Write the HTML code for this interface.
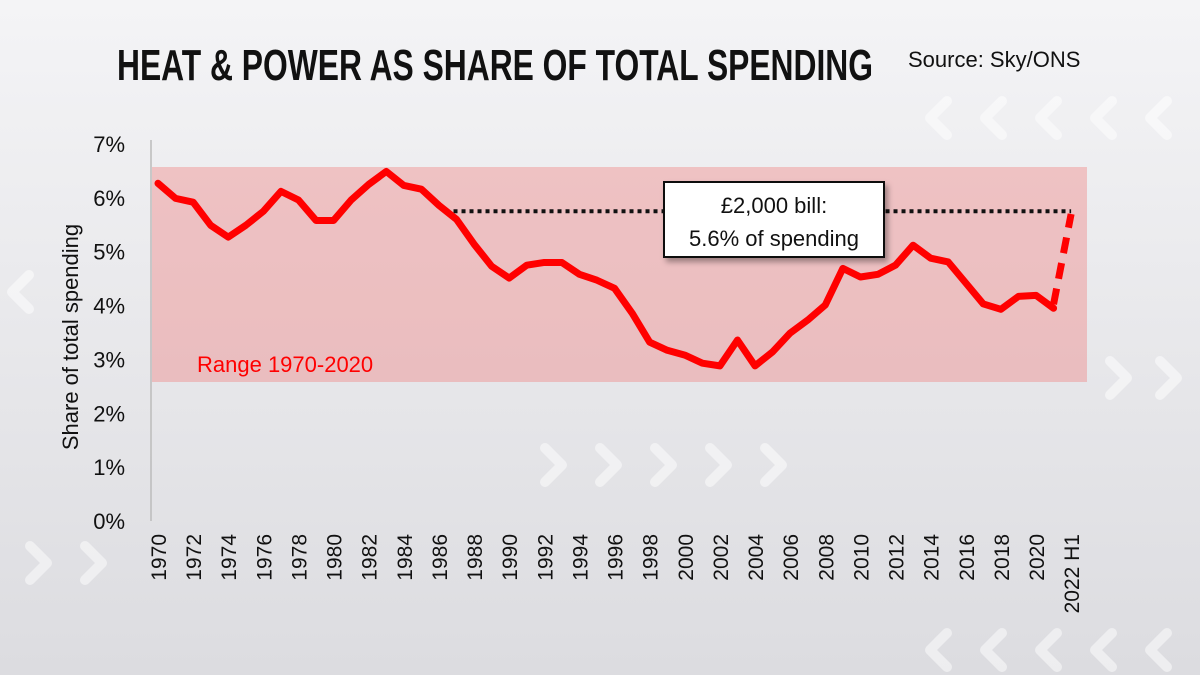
<!DOCTYPE html>
<html><head><meta charset="utf-8"><style>
html,body{margin:0;padding:0;width:1200px;height:675px;overflow:hidden;background:linear-gradient(#f4f4f6,#dcdce0);font-family:"Liberation Sans",sans-serif}
</style></head><body>
<svg width="1200" height="675" viewBox="0 0 1200 675">
<defs><filter id="sh" x="-10%" y="-10%" width="130%" height="140%"><feDropShadow dx="3" dy="4" stdDeviation="3" flood-opacity="0.35"/></filter></defs>
<g id="chev" fill="none" stroke="#ffffff" stroke-width="10" stroke-linecap="round" stroke-linejoin="round" opacity="0.5"></g>
<text x="117" y="80" font-family="'Liberation Sans Narrow','Liberation Sans',sans-serif" font-weight="bold" font-size="44" fill="#111" textLength="756" lengthAdjust="spacingAndGlyphs">HEAT &amp; POWER AS SHARE OF TOTAL SPENDING</text>
<text x="908" y="67" font-size="22" fill="#111">Source: Sky/ONS</text>
<rect x="152" y="167" width="935" height="215" fill="#f08080" opacity="0.4"/>
<text x="197" y="372" font-size="22" fill="#f00">Range 1970-2020</text>
<line x1="151" y1="140" x2="151" y2="521" stroke="#bbb" stroke-width="1.5"/>
<g id="yt"></g><g id="xt"></g>
<text transform="translate(78,337) rotate(-90)" text-anchor="middle" font-size="22" fill="#111">Share of total spending</text>
<g id="marks"></g>
<g filter="url(#sh)">
<rect x="664" y="182" width="220" height="75" fill="#fff" stroke="#111" stroke-width="2"/></g>
<text x="774" y="213" text-anchor="middle" font-size="22" fill="#111">£2,000 bill:</text>
<text x="774" y="246" text-anchor="middle" font-size="22" fill="#111">5.6% of spending</text>
</svg>
<script>
const years=[1970,1971,1972,1973,1974,1975,1976,1977,1978,1979,1980,1981,1982,1983,1984,1985,1986,1987,1988,1989,1990,1991,1992,1993,1994,1995,1996,1997,1998,1999,2000,2001,2002,2003,2004,2005,2006,2007,2008,2009,2010,2011,2012,2013,2014,2015,2016,2017,2018,2019,2020,2021];
const share=[6.27,5.99,5.92,5.49,5.27,5.49,5.75,6.12,5.96,5.58,5.58,5.96,6.25,6.49,6.23,6.16,5.86,5.60,5.14,4.73,4.51,4.75,4.80,4.80,4.58,4.47,4.32,3.86,3.32,3.17,3.08,2.93,2.88,3.36,2.88,3.14,3.49,3.73,4.01,4.69,4.53,4.58,4.75,5.12,4.88,4.81,4.42,4.03,3.93,4.17,4.19,3.95];
const projValue=5.7;
const billLevel=5.75;
const yTicks=[0,1,2,3,4,5,6,7];
const xLabels=["1970","1972","1974","1976","1978","1980","1982","1984","1986","1988","1990","1992","1994","1996","1998","2000","2002","2004","2006","2008","2010","2012","2014","2016","2018","2020","2022 H1"];
const NS="http://www.w3.org/2000/svg";
const X=i=>158+i*17.56, Y=v=>521-v*53.86;
function mk(t,a,p){const e=document.createElementNS(NS,t);for(const k in a)e.setAttribute(k,a[k]);p.appendChild(e);return e;}
const yt=document.getElementById('yt');
yTicks.forEach(v=>{const t=mk('text',{x:125,y:Y(v)+8,'text-anchor':'end','font-size':22,fill:'#111'},yt);t.textContent=v+'%';

});
const xt=document.getElementById('xt');
xLabels.forEach((l,k)=>{const x=X(k*2)+8;const t=mk('text',{transform:`translate(${x},534) rotate(-90)`,'text-anchor':'end','font-size':21,fill:'#111'},xt);t.textContent=l;

});
const m=document.getElementById('marks');
const last=share.length-1, pi=last+1;
const dl=mk('line',{x1:X(17)-3,y1:Y(billLevel),x2:X(pi),y2:Y(billLevel),stroke:'#111','stroke-width':4,'stroke-dasharray':'4 4'},m);


const pl=mk('polyline',{points:share.map((v,i)=>X(i)+','+Y(v)).join(' '),fill:'none',stroke:'#f00','stroke-width':7,'stroke-linejoin':'round','stroke-linecap':'round'},m);


const pj=mk('line',{x1:X(last),y1:Y(share[last])-4,x2:X(pi),y2:Y(projValue),stroke:'#f00','stroke-width':7,'stroke-dasharray':'16 10'},m);


const ch=document.getElementById('chev');
function chev(x,y,s,dir){const d=dir>0?`${x},${y-s} ${x+s},${y} ${x},${y+s}`:`${x+s},${y-s} ${x},${y} ${x+s},${y+s}`;mk('polyline',{points:d},ch);}
[930,985,1040,1095,1150].forEach(x=>chev(x,118,17,-1));
[545,600,655,710,765].forEach(x=>chev(x,465,17,1));
[30,85].forEach(x=>chev(x,563,17,1));
[1110,1160].forEach(x=>chev(x,378,17,1));
[930,985,1040,1095,1150].forEach(x=>chev(x,650,17,-1));
chev(12,292,17,-1);
</script>
</body></html>
